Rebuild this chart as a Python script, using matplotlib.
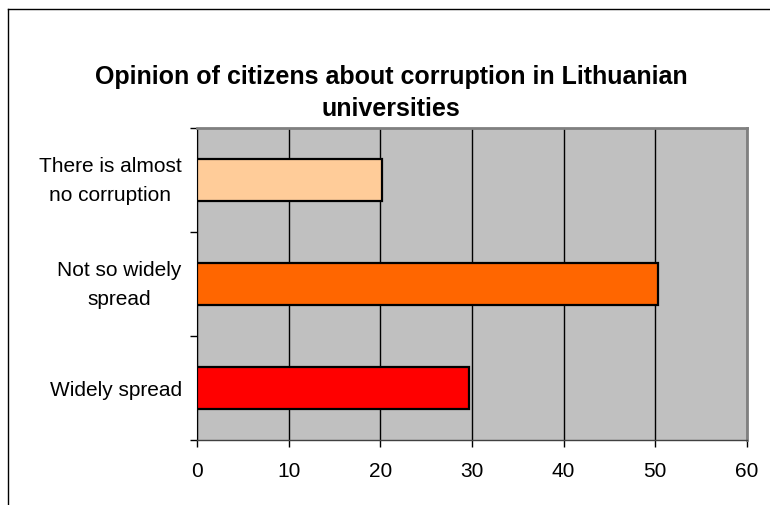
import matplotlib.pyplot as plt
from matplotlib.lines import Line2D
import numpy as np

plt.rcParams['font.family'] = ['Liberation Sans', 'DejaVu Sans']

# data, top to bottom as in the picture
categories = ["There is almost\nno corruption", "Not so widely\nspread", "Widely spread"]
values = [20.2, 50.3, 29.7]
colors = ["#FFCC99", "#FF6600", "#FF0000"]
x_ticks = [0, 10, 20, 30, 40, 50, 60]

fig = plt.figure(figsize=(7.7, 5.06), dpi=100)
ax = fig.add_axes([197/770, 1 - 441/506, 550/770, 312/506])
ax.set_facecolor("#C0C0C0")

pos = np.arange(len(categories))
ax.barh(pos, values, height=0.4, color=colors, edgecolor="black", linewidth=1.6, zorder=3)

ax.set_xlim(0, 60)
ax.set_ylim(len(categories) - 0.5, -0.5)
ax.set_xticks(x_ticks)
ax.set_xticklabels([str(t) for t in x_ticks], fontsize=15)
ax.xaxis.grid(True, color="black", linewidth=1, zorder=1)
ax.set_axisbelow(True)

# category labels at centers, tick marks at the boundaries
ax.set_yticks(pos)
ax.set_yticklabels(categories, fontsize=15)
for lab in ax.get_yticklabels():
    lab.set_multialignment("center")
    if "\n" in lab.get_text():
        lab.set_linespacing(1.72)
        lab.set_verticalalignment("center")
ax.set_yticks(np.arange(len(categories) + 1) - 0.5, minor=True)
ax.tick_params(axis="y", which="major", length=0, pad=11)
ax.tick_params(axis="y", which="minor", length=5, width=1, color="black")
ax.tick_params(axis="x", length=5, width=1, pad=10, color="black")

for side in ["top", "right"]:
    ax.spines[side].set_color("#808080")
    ax.spines[side].set_linewidth(2)
ax.spines["left"].set_color("black")
ax.spines["bottom"].set_color("#404040")
ax.spines["bottom"].set_linewidth(1)

fig.text(391/770, 1 - 93/506, "Opinion of citizens about corruption in Lithuanian\nuniversities",
         ha="center", va="center", fontsize=18, fontweight="bold", linespacing=1.42)

# chart area border (left and top visible)
fig.add_artist(Line2D([8/770, 8/770], [0, 1 - 10/506], color="black", linewidth=1, transform=fig.transFigure))
fig.add_artist(Line2D([8/770, 1], [1 - 10/506, 1 - 10/506], color="black", linewidth=1, transform=fig.transFigure))

fig.savefig("out.png", dpi=100)
